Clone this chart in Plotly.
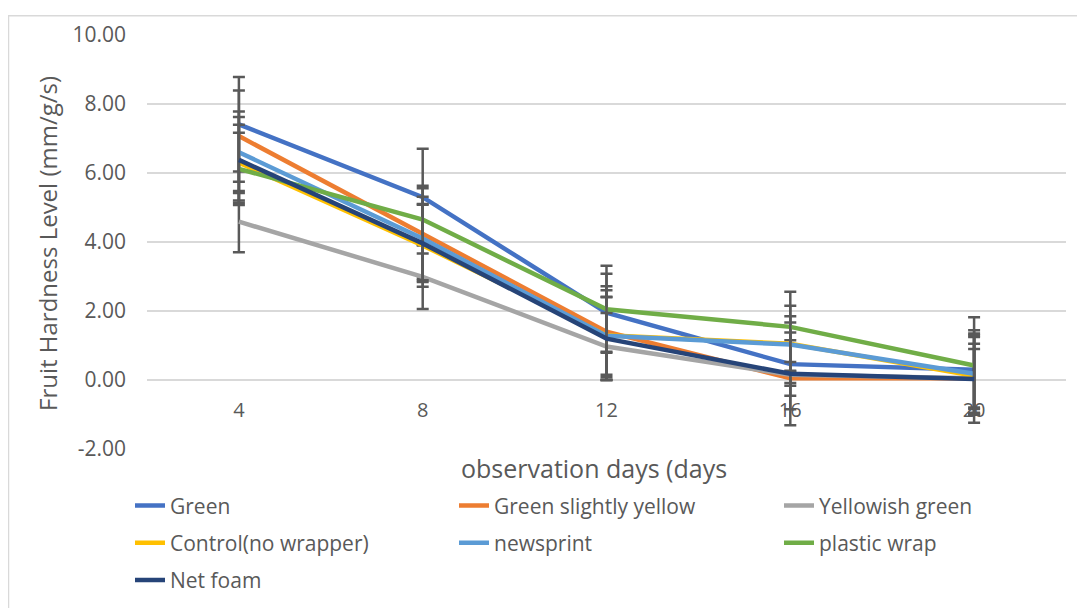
import plotly.graph_objects as go

days = [4, 8, 12, 16, 20]

green = [7.41, 5.30, 1.95, 0.46, 0.30]
slightly_yellow = [7.07, 4.25, 1.40, 0.05, 0.05]
yellowish_green = [4.59, 2.99, 0.97, 0.15, 0.05]
control = [6.30, 3.90, 1.30, 1.05, 0.12]
newsprint = [6.60, 4.10, 1.28, 1.03, 0.18]
plastic_wrap = [6.12, 4.65, 2.05, 1.54, 0.42]
net_foam = [6.38, 3.96, 1.20, 0.18, 0.03]

green_err = [1.37, 1.40, 1.13, 0.92, 1.14]
slightly_yellow_err = [1.32, 1.31, 1.32, 0.22, 0.85]
yellowish_green_err = [0.89, 0.93, 0.97, 1.00, 1.00]
control_err = [1.10, 1.20, 1.30, 0.80, 1.13]
newsprint_err = [1.18, 1.21, 1.13, 1.12, 1.17]
plastic_wrap_err = [1.05, 0.98, 1.26, 1.02, 1.40]
net_foam_err = [1.24, 1.12, 1.20, 1.49, 1.27]

y_ticks = [-2, 0, 2, 4, 6, 8, 10]
y_labels = ["-2.00", "0.00", "2.00", "4.00", "6.00", "8.00", "10.00"]

# (name, values, errors, colour, legend column)
series = [
    ("Green", green, green_err, "#4472C4", "legend"),
    ("Green slightly yellow", slightly_yellow, slightly_yellow_err, "#ED7D31", "legend2"),
    ("Yellowish green", yellowish_green, yellowish_green_err, "#A5A5A5", "legend3"),
    ("Control(no wrapper)", control, control_err, "#FFC000", "legend"),
    ("newsprint", newsprint, newsprint_err, "#5B9BD5", "legend2"),
    ("plastic wrap", plastic_wrap, plastic_wrap_err, "#70AD47", "legend3"),
    ("Net foam", net_foam, net_foam_err, "#264478", "legend"),
]

FONT = "Open Sans, Lato, sans-serif"
TEXT = "#595959"
GRID = "#D9D9D9"

# page has an 8px body margin, so the figure is drawn 8px smaller and
# all positions below are figure pixels (screen pixel - 8)
W, H = 1077, 604
L, R, T, B = 139, 1058, 20, 442
pw, ph = R - L, B - T


def px_x(p):
    return (p - L) / pw


def px_y(p):
    return (B - p) / ph


def col_legend(xpix):
    # one vertical legend per column, each entry in its own group
    return dict(
        orientation="v",
        x=px_x(xpix),
        y=px_y(479),
        xanchor="left",
        yanchor="top",
        tracegroupgap=7,
        font=dict(size=21, color=TEXT),
        traceorder="grouped",
        bgcolor="rgba(0,0,0,0)",
    )


fig = go.Figure()
for name, vals, errs, col, leg in series:
    fig.add_trace(
        go.Scatter(
            x=days,
            y=vals,
            name=name,
            mode="lines",
            legend=leg,
            legendgroup=name,
            line=dict(color=col, width=4.5),
            error_y=dict(type="data", array=errs, visible=True,
                         color="#595959", thickness=2.5, width=6),
        )
    )

fig.update_layout(
    width=W,
    height=H,
    margin=dict(l=L, r=W - R, t=T, b=H - B),
    paper_bgcolor="white",
    plot_bgcolor="white",
    font=dict(family=FONT, size=20, color=TEXT),
    showlegend=True,
    legend=col_legend(122),
    legend2=col_legend(446),
    legend3=col_legend(771),
    xaxis=dict(
        range=[2, 22],
        tickvals=days,
        ticktext=[str(d) for d in days],
        showgrid=False,
        zeroline=False,
        showline=False,
        ticks="",
        anchor="free",
        position=2 / 12,
        ticklabelstandoff=16,
        tickfont=dict(size=20, color=TEXT),
    ),
    yaxis=dict(
        range=[-2, 10],
        tickvals=y_ticks,
        ticktext=y_labels,
        showgrid=True,
        gridcolor=GRID,
        gridwidth=1.5,
        zeroline=True,
        zerolinecolor=GRID,
        zerolinewidth=1.5,
        showline=False,
        ticks="",
        ticklabelstandoff=20,
        tickfont=dict(size=21, color=TEXT),
    ),
    annotations=[
        dict(text="observation days (days", xref="paper", yref="paper",
             x=px_x(586), y=px_y(461), xanchor="center", yanchor="middle",
             showarrow=False, font=dict(size=25, color=TEXT)),
        dict(text="Fruit Hardness Level (mm/g/s)", xref="paper", yref="paper",
             x=px_x(40), y=px_y(233), xanchor="center", yanchor="middle",
             textangle=-90, showarrow=False, font=dict(size=24, color=TEXT)),
    ],
    shapes=[
        dict(type="line", xref="paper", yref="paper",
             x0=px_x(0), x1=px_x(W), y0=px_y(0.5), y1=px_y(0.5),
             line=dict(color=GRID, width=1.5)),
        dict(type="line", xref="paper", yref="paper",
             x0=px_x(0.5), x1=px_x(0.5), y0=px_y(0), y1=px_y(H),
             line=dict(color=GRID, width=1.5)),
    ],
)

fig.write_html("out.html")
